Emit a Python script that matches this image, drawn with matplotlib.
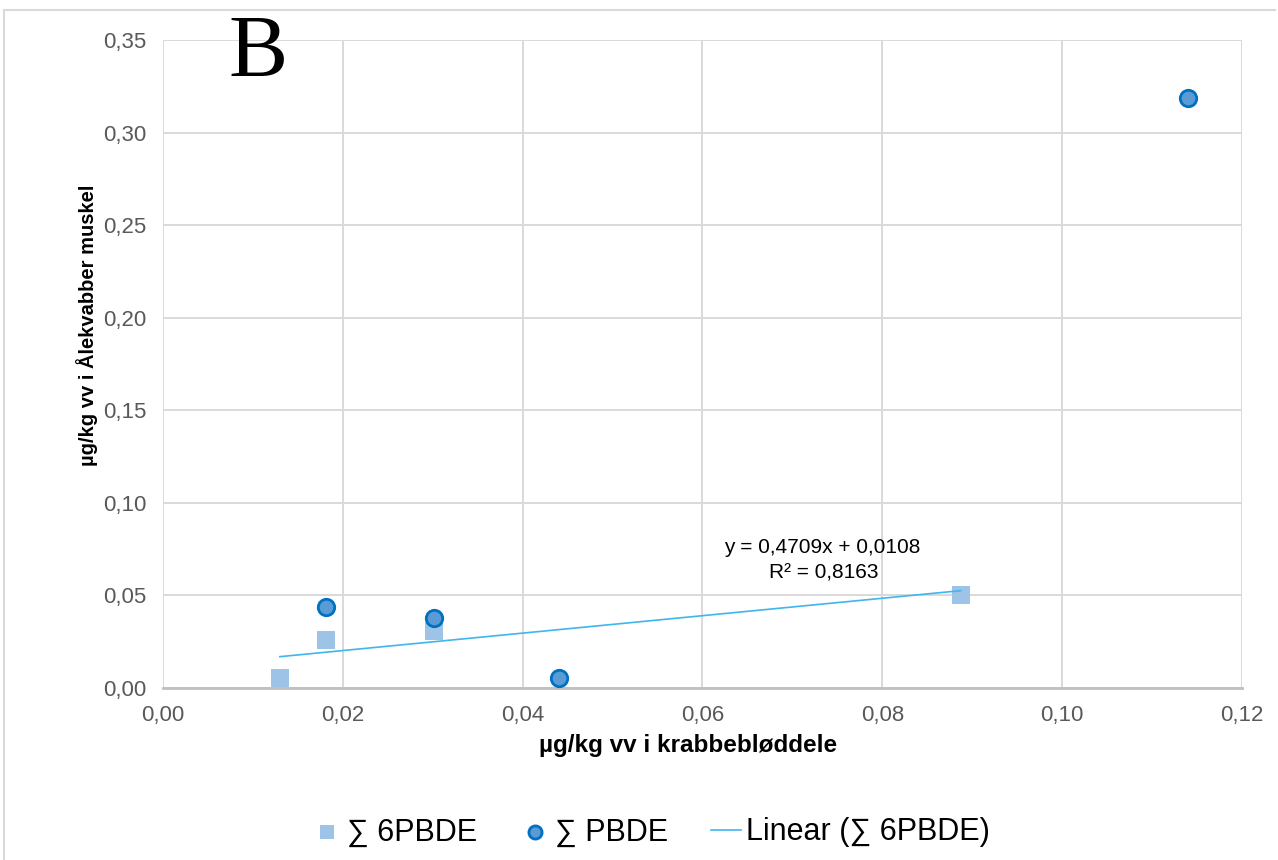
import numpy as np
import matplotlib
matplotlib.use("Agg")
import matplotlib.pyplot as plt
from matplotlib.lines import Line2D

plt.rcParams['font.family'] = ['Liberation Sans', 'DejaVu Sans']

# crab soft tissue (x) vs. eelpout muscle (y), µg/kg ww
x_6pbde = [0.0130, 0.0181, 0.0302, 0.0887]
y_6pbde = [0.0054, 0.0259, 0.0308, 0.0502]

x_pbde = [0.0181, 0.0302, 0.0441, 0.1140]
y_pbde = [0.0438, 0.0378, 0.0054, 0.3187]

slope, intercept, r2 = 0.4709, 0.0108, 0.8163

xticks = [0.00, 0.02, 0.04, 0.06, 0.08, 0.10, 0.12]
yticks = [0.00, 0.05, 0.10, 0.15, 0.20, 0.25, 0.30, 0.35]


def comma(v, nd=2):
    return f"{v:.{nd}f}".replace('.', ',')


fig = plt.figure(figsize=(12.78, 8.6), dpi=100)
ax = fig.add_axes([0.1275, 0.2, 0.8443, 0.7535])

grid_col = '#d9d9d9'
ax.set_xlim(0, 0.12)
ax.set_ylim(0, 0.35)
ax.set_xticks(xticks)
ax.set_yticks(yticks)
ax.set_xticklabels([comma(v) for v in xticks])
ax.set_yticklabels([comma(v) for v in yticks])
ax.tick_params(length=0, labelsize=16, labelcolor='#595959', pad=12)
ax.grid(True, color=grid_col, linewidth=1.4)
ax.set_axisbelow(True)
for side in ['top', 'right', 'left']:
    ax.spines[side].set_visible(False)
ax.spines['bottom'].set_color('#bfbfbf')
ax.spines['bottom'].set_linewidth(2)

ax.scatter(x_6pbde, y_6pbde, marker='s', s=165, color='#9dc3e6',
           linewidths=0, zorder=3, label='∑ 6PBDE')
ax.scatter(x_pbde, y_pbde, marker='o', s=140, facecolor='#5b9bd5',
           edgecolor='#0070c0', linewidths=2, zorder=4, label='∑ PBDE')

# trend line for the 6PBDE series
xl = np.array([min(x_6pbde), max(x_6pbde)])
ax.plot(xl, slope * xl + intercept, color='#3fb6ec', linewidth=1.2,
        zorder=3, label='Linear (∑ 6PBDE)')

ax.text(0.0733, 0.0757, f"y = {comma(slope, 4)}x + {comma(intercept, 4)}",
        ha='center', va='center', fontsize=15)
ax.text(0.0735, 0.0622, f"R² = {comma(r2, 4)}",
        ha='center', va='center', fontsize=15)

ax.set_xlabel('µg/kg vv i krabbebløddele', fontsize=17.5, fontweight='bold')
ax.xaxis.set_label_coords(0.487, -0.071)
ax.set_ylabel('µg/kg vv i Ålekvabber muskel', fontsize=14.5, fontweight='bold')
ax.yaxis.set_label_coords(-0.06, 0.56)

fig.text(0.202, 0.937, 'B', fontsize=64, family='Liberation Serif',
         ha='center', va='center')

leg = fig.legend(loc='center', bbox_to_anchor=(0.509, 0.032), ncol=3,
                 frameon=False, fontsize=22, handlelength=1.0,
                 handletextpad=0.15, columnspacing=1.4, markerscale=0.8)

# outer chart frame
frame_kw = dict(color='#d9d9d9', linewidth=1.5, transform=fig.transFigure)
fig.add_artist(Line2D([4 / 1278, 1275 / 1278], [1 - 10 / 860, 1 - 10 / 860], **frame_kw))
fig.add_artist(Line2D([4 / 1278, 4 / 1278], [0, 1 - 10 / 860], **frame_kw))

fig.savefig('out.png', dpi=100)
